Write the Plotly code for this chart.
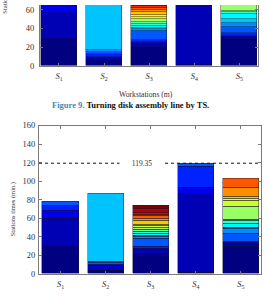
import plotly.graph_objects as go

# ---------------- data ----------------
stations = ["S1", "S2", "S3", "S4", "S5"]
tick_text = ["<i>S</i><sub>1</sub>", "<i>S</i><sub>2</sub>", "<i>S</i><sub>3</sub>",
             "<i>S</i><sub>4</sub>", "<i>S</i><sub>5</sub>"]

# Figure 9 (TS) - task times stacked per station (only lower part visible)
ts_S1 = [29.5, 28.5, 9.0, 5.0, 4.5]
ts_S2 = [5.6, 2.1, 2.1, 2.4, 2.1, 2.4, 73.0]
ts_S3 = [20.1, 3.9, 1.5, 1.6, 9.8, 2.4, 1.7, 1.7, 2.5, 2.0, 2.5, 2.4, 2.8, 2.8,
         2.1, 2.1, 2.1, 2.5, 3.0, 4.0]
ts_S4 = [1.5, 86.0, 5.0, 12.0, 3.0]
ts_S5 = [28.9, 2.0, 1.4, 2.5, 6.9, 4.5, 3.5, 5.9, 2.1, 1.3, 13.9, 5.9, 2.8, 1.7,
         10.4, 9.4]

# Second chart - task times stacked per station
b_S1 = [30.2, 29.5, 9.1, 4.7, 4.5]
b_S2 = [4.2, 2.4, 2.3, 1.5, 1.4, 1.2, 73.8]
b_S3 = [22.5, 3.5, 1.7, 1.5, 8.9, 1.8, 1.7, 1.8, 2.4, 1.7, 2.1, 2.1, 2.1, 3.5,
        2.7, 2.5, 1.7, 2.3, 3.5, 4.0]
b_S4 = [1.7, 85.1, 5.9, 23.6, 3.05]
b_S5 = [29.5, 3.4, 1.0, 0.8, 8.7, 5.2, 1.7, 3.7, 3.3, 1.7, 13.9, 5.9, 2.8, 1.7,
        10.4, 9.4]

cycle_time = 119.35

top_data = [ts_S1, ts_S2, ts_S3, ts_S4, ts_S5]
bot_data = [b_S1, b_S2, b_S3, b_S4, b_S5]

# ---------------- styling ----------------
W, H = 268, 297
SERIF = "Liberation Serif, Times New Roman, serif"
N_SERIES = max(len(s) for s in top_data + bot_data)


def clip(v):
    return max(0.0, min(1.0, v))


def jet(x):
    r = clip(1.5 - abs(4 * x - 3))
    g = clip(1.5 - abs(4 * x - 2))
    b = clip(1.5 - abs(4 * x - 1))
    return "rgb(%d,%d,%d)" % (round(r * 255), round(g * 255), round(b * 255))


def py(p):
    return 1 - p / H


fig = go.Figure()

xpos = list(range(1, len(stations) + 1))
for data, xa, ya in [(top_data, "x", "y"), (bot_data, "x2", "y2")]:
    for k in range(N_SERIES):
        yv = [st[k] if k < len(st) else None for st in data]
        fig.add_trace(go.Bar(
            x=xpos, y=yv, xaxis=xa, yaxis=ya, width=0.8,
            marker=dict(color=jet(k / (N_SERIES - 1)),
                        line=dict(color="rgba(20,20,40,0.85)", width=0.5)),
            showlegend=False, hoverinfo="skip"))

axis_common = dict(showline=True, linecolor="#7a7a7a", linewidth=1,
                   ticks="inside", ticklen=3, tickcolor="#7a7a7a",
                   showgrid=False, zeroline=False,
                   tickfont=dict(family=SERIF, size=8.5, color="#333"))

top_px_per_unit = 0.96
fig.update_layout(
    width=W, height=H, margin=dict(l=0, r=0, t=0, b=0),
    paper_bgcolor="white", plot_bgcolor="white", barmode="stack", bargap=0,
    xaxis=dict(domain=[40 / W, 258 / W], range=[0.579, 5.413],
               tickvals=xpos, ticktext=tick_text, mirror=False,
               ticklabelstandoff=2, **axis_common),
    yaxis=dict(domain=[py(62.7), 1], range=[0, 62.7 / top_px_per_unit],
               tickvals=[0, 20, 40, 60], mirror="ticks",
               ticklabelstandoff=3, **axis_common),
    xaxis2=dict(domain=[39 / W, 261 / W], range=[0.523, 5.445], anchor="y2",
                tickvals=xpos, ticktext=tick_text, mirror="ticks",
                ticklabelstandoff=2, **axis_common),
    yaxis2=dict(domain=[py(278.3), py(124.7)], range=[0, 160], anchor="x2",
                tickvals=list(range(0, 161, 20)), mirror="ticks",
                ticklabelstandoff=1, **axis_common),
)

# cycle-time dotted line
fig.add_shape(type="line", xref="x2 domain", yref="y2", x0=0, x1=1,
              y0=cycle_time, y1=cycle_time,
              line=dict(color="#111", width=1, dash="dot"))
fig.add_annotation(x=142 / W, xref="paper", y=cycle_time, yref="y2",
                   text="%.2f" % cycle_time, showarrow=False,
                   bgcolor="white", width=42, align="center",
                   font=dict(family=SERIF, size=7.5, color="#333"))

ytitle = "Stations times (min.)"
# top chart y title (mostly cut off by the top edge, as in the reference)
fig.add_annotation(x=5 / W, xref="paper", y=1 + 19 / H, yref="paper",
                   text=ytitle, textangle=-90, showarrow=False,
                   xanchor="center", yanchor="middle",
                   font=dict(family=SERIF, size=6.5, color="#333"))
# bottom chart y title
fig.add_annotation(x=12.5 / W, xref="paper", y=py(212), yref="paper",
                   text=ytitle, textangle=-90, showarrow=False,
                   xanchor="center", yanchor="middle",
                   font=dict(family=SERIF, size=6.5, color="#333"))
# top chart x title
fig.add_annotation(x=146 / W, xref="paper", y=py(86), yref="paper",
                   text="Workstations (m)", showarrow=False,
                   font=dict(family=SERIF, size=7.7, color="#333"))
# caption
fig.add_annotation(x=130 / W, xref="paper", y=py(103), yref="paper",
                   text="<b><span style='color:#3b8db3'>Figure 9.</span> "
                        "Turning disk assembly line by TS.</b>",
                   showarrow=False,
                   font=dict(family=SERIF, size=8.5, color="#111"))

fig.write_html("out.html")
